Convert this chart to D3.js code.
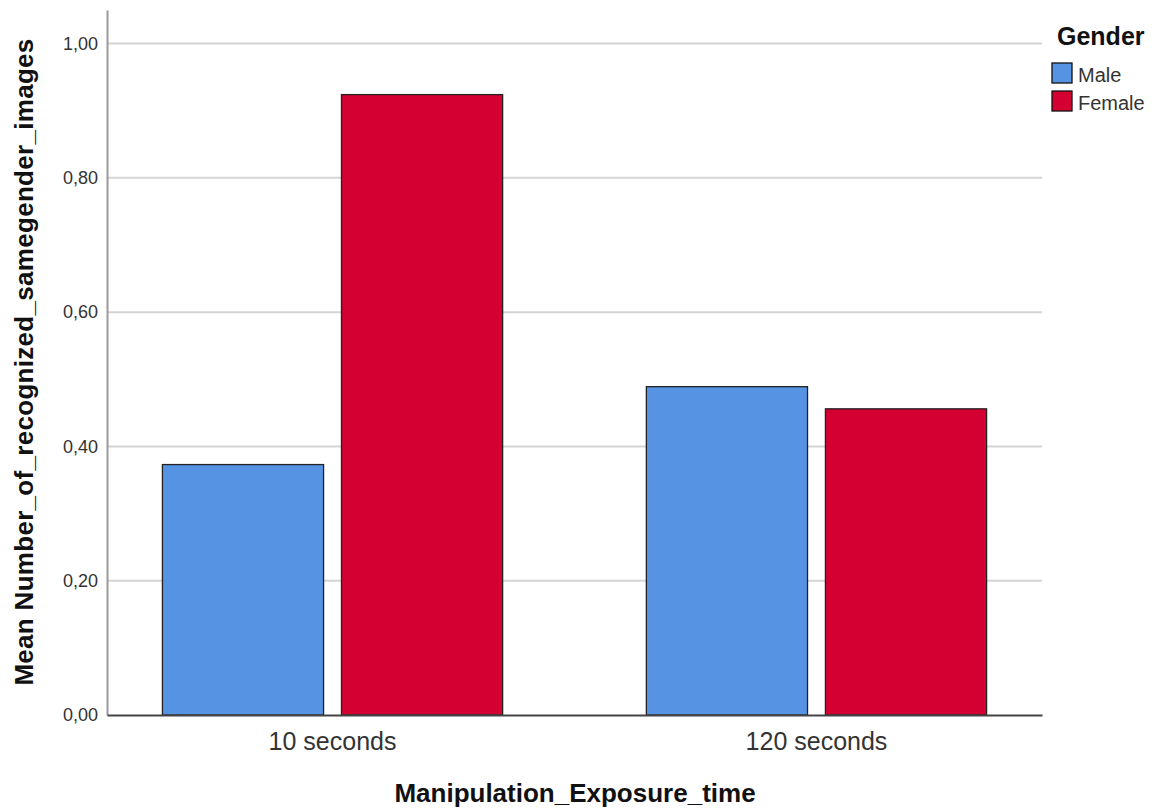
<!DOCTYPE html>
<html><head><meta charset="utf-8">
<script src="https://cdn.jsdelivr.net/npm/d3@7"></script>
<style>body{margin:0;background:#fff;} text{font-family:"Liberation Sans",Arial,sans-serif;}</style>
</head><body>
<svg id="c" width="1164" height="809"></svg>
<script>
const categories = ["10 seconds", "120 seconds"];
const genders = ["Male", "Female"];
const maleValues = [0.373, 0.489];
const femaleValues = [0.924, 0.456];
const yTicks = [0, 0.2, 0.4, 0.6, 0.8, 1.0];
const colors = ["#5793e3", "#d50032"];

const data = categories.map((c, i) => ({cat: c, vals: [maleValues[i], femaleValues[i]]}));
const svg = d3.select("#c");
const mLeft = 107, mRight = 1042, mTop = 10, mBottom = 715;

const y = d3.scaleLinear().domain([0, 1.05]).range([mBottom, mTop]);
const x0 = d3.scaleBand().domain(categories).range([mLeft, mRight]).paddingInner(0.297).paddingOuter(0.1145);
const x1 = d3.scaleBand().domain(genders).range([0, x0.bandwidth()]).paddingInner(0.1);

// gridlines
svg.append("g").selectAll("line").data(yTicks.filter(d => d > 0)).join("line")
  .attr("x1", mLeft).attr("x2", mRight).attr("y1", d => y(d)).attr("y2", d => y(d))
  .attr("stroke", "#d4d4d4").attr("stroke-width", 2);

// y axis
const fmt = d => d3.format(".2f")(d).replace(".", ",");
const ya = svg.append("g").attr("transform", `translate(${mLeft},0)`)
  .call(d3.axisLeft(y).tickValues(yTicks).tickFormat(fmt).tickSize(0).tickPadding(9));
ya.select(".domain").attr("stroke", "#9a9a9a").attr("stroke-width", 2);
ya.selectAll("text").attr("font-size", 18).attr("fill", "#333");

// bars
const g = svg.append("g").selectAll("g").data(data).join("g")
  .attr("transform", d => `translate(${x0(d.cat)},0)`);
g.selectAll("rect").data(d => d.vals.map((v, i) => ({g: genders[i], v, i}))).join("rect")
  .attr("x", d => x1(d.g)).attr("width", x1.bandwidth())
  .attr("y", d => y(d.v)).attr("height", d => y(0) - y(d.v))
  .attr("fill", d => colors[d.i]).attr("stroke", "#222").attr("stroke-width", 1.3);

// x axis
const xa = svg.append("g").attr("transform", `translate(0,${mBottom})`)
  .call(d3.axisBottom(x0).tickSize(0).tickPadding(17));
xa.select(".domain").attr("stroke", "#444").attr("stroke-width", 2);
xa.selectAll("text").attr("font-size", 25).attr("fill", "#333");

// axis titles
svg.append("text").attr("x", 575).attr("y", 802).attr("text-anchor", "middle")
  .attr("font-size", 26).attr("font-weight", "bold").attr("fill", "#111").text("Manipulation_Exposure_time");
svg.append("text").attr("transform", "translate(33,362) rotate(-90)").attr("text-anchor", "middle")
  .attr("font-size", 26).attr("font-weight", "bold").attr("letter-spacing", 0.3).attr("fill", "#111").text("Mean Number_of_recognized_samegender_images");

// legend
svg.append("text").attr("x", 1057).attr("y", 45).attr("font-size", 25).attr("font-weight", "bold").attr("fill", "#111").text("Gender");
const lg = svg.append("g").selectAll("g").data(genders).join("g")
  .attr("transform", (d, i) => `translate(1052,${63 + i * 28})`);
lg.append("rect").attr("width", 20).attr("height", 20).attr("fill", (d, i) => colors[i]).attr("stroke", "#111").attr("stroke-width", 1.3);
lg.append("text").attr("x", 26).attr("y", 19).attr("font-size", 20).attr("fill", "#333").text(d => d);
</script>
</body></html>
